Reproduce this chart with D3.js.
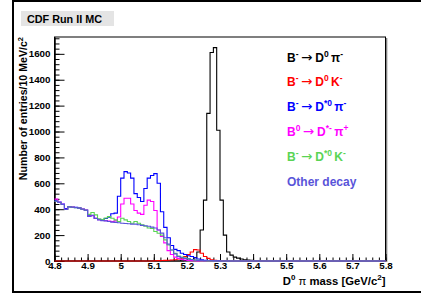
<!DOCTYPE html>
<html lang="en">
<head>
  <meta charset="UTF-8" />
  <title>D0 pi mass - CDF Run II MC</title>
  <script src="https://d3js.org/d3.v7.min.js"></script>
  <style>
    body {
      margin: 0;
      padding: 0;
      background: white;
      font-family: "Liberation Sans", Arial, sans-serif;
    }
    svg {
      display: block;
      background: white;
    }
    .axis text {
      font-family: "Liberation Sans", Arial, sans-serif;
      font-weight: bold;
      font-size: 9.8px;
      fill: black;
    }
    .axis line, .axis path {
      stroke: black;
      stroke-width: 1px;
    }
    .hist {
      fill: none;
      stroke-width: 1.1px;
    }
  </style>
</head>
<body>
  <svg id="chart" width="421" height="299"></svg>

  <script>
    // bins: 100 bins of 10 MeV from 4.80 to 5.80 GeV
    const xMin = 4.8;
    const xMax = 5.8;
    const binWidth = 0.01;

    const xTicks = [4.8, 4.9, 5.0, 5.1, 5.2, 5.3, 5.4, 5.5, 5.6, 5.7, 5.8];
    const yTicks = [0, 200, 400, 600, 800, 1000, 1200, 1400, 1600];

    // B- -> D0 pi-
    const histD0pi = [
      0, 0, 0, 0, 0, 0, 0, 0, 0, 0,
      0, 0, 0, 0, 0, 0, 0, 0, 0, 0,
      0, 0, 0, 0, 0, 0, 0, 0, 0, 0,
      0, 0, 0, 0, 0, 0, 0, 0, 0, 3,
      5, 10, 25, 70, 240, 470, 1140, 1610, 1648, 1010,
      470, 200, 70, 45, 30, 22, 15, 10, 8, 6,
      4, 3, 2, 2, 1, 0, 0, 0, 0, 0,
      0, 0, 0, 0, 0, 0, 0, 0, 0, 0,
      0, 0, 0, 0, 0, 0, 0, 0, 0, 0,
      0, 0, 0, 0, 0, 0, 0, 0, 0, 0
    ];
    // B- -> D0 K-
    const histD0K = [
      0, 0, 0, 0, 0, 0, 0, 0, 0, 0,
      0, 0, 0, 0, 0, 0, 0, 0, 0, 0,
      0, 0, 0, 0, 0, 0, 0, 0, 0, 0,
      2, 3, 4, 5, 6, 8, 10, 15, 22, 35,
      50, 70, 88, 85, 60, 35, 20, 10, 6, 4,
      2, 1, 0, 0, 0, 0, 0, 0, 0, 0,
      0, 0, 0, 0, 0, 0, 0, 0, 0, 0,
      0, 0, 0, 0, 0, 0, 0, 0, 0, 0,
      0, 0, 0, 0, 0, 0, 0, 0, 0, 0,
      0, 0, 0, 0, 0, 0, 0, 0, 0, 0
    ];
    // B- -> D*0 pi-
    const histDst0pi = [
      465, 455, 440, 405, 420, 416, 414, 410, 402, 394,
      350, 352, 330, 320, 318, 328, 338, 365, 370, 500,
      640, 690, 680, 640, 520, 490, 460, 560, 640, 660,
      675, 600, 380, 260, 180, 120, 90, 80, 60, 50,
      40, 35, 25, 15, 10, 6, 4, 3, 2, 1,
      0, 0, 0, 0, 0, 0, 0, 0, 0, 0,
      0, 0, 0, 0, 0, 0, 0, 0, 0, 0,
      0, 0, 0, 0, 0, 0, 0, 0, 0, 0,
      0, 0, 0, 0, 0, 0, 0, 0, 0, 0,
      0, 0, 0, 0, 0, 0, 0, 0, 0, 0
    ];
    // B0 -> D*- pi+
    const histDstpi = [
      478, 454, 437, 399, 419, 416, 413, 409, 401, 393,
      346, 351, 329, 319, 314, 312, 308, 304, 310, 340,
      440, 485, 485, 440, 390, 370, 360, 430, 470, 460,
      390, 240, 190, 140, 80, 50, 30, 20, 12, 8,
      5, 3, 2, 1, 0, 0, 0, 0, 0, 0,
      0, 0, 0, 0, 0, 0, 0, 0, 0, 0,
      0, 0, 0, 0, 0, 0, 0, 0, 0, 0,
      0, 0, 0, 0, 0, 0, 0, 0, 0, 0,
      0, 0, 0, 0, 0, 0, 0, 0, 0, 0,
      0, 0, 0, 0, 0, 0, 0, 0, 0, 0
    ];
    // B- -> D*0 K-
    const histDst0K = [
      462, 452, 436, 398, 418, 415, 412, 408, 400, 392,
      360, 375, 356, 325, 320, 332, 343, 330, 318, 305,
      330, 318, 305, 292, 305, 292, 280, 268, 255, 252,
      228, 214, 200, 163, 124, 85, 59, 39, 30, 25,
      18, 12, 8, 5, 3, 2, 1, 0, 0, 0,
      0, 0, 0, 0, 0, 0, 0, 0, 0, 0,
      0, 0, 0, 0, 0, 0, 0, 0, 0, 0,
      0, 0, 0, 0, 0, 0, 0, 0, 0, 0,
      0, 0, 0, 0, 0, 0, 0, 0, 0, 0,
      0, 0, 0, 0, 0, 0, 0, 0, 0, 0
    ];
    // Other decay
    const histOther = [
      462, 452, 436, 398, 418, 415, 412, 408, 400, 392,
      345, 350, 328, 318, 312, 310, 305, 300, 298, 295,
      292, 290, 288, 285, 285, 280, 275, 272, 268, 262,
      255, 240, 215, 180, 130, 85, 55, 35, 25, 20,
      15, 10, 8, 5, 4, 3, 2, 2, 1, 1,
      0, 0, 0, 0, 0, 0, 0, 0, 0, 0,
      0, 0, 0, 0, 0, 0, 0, 0, 0, 0,
      0, 0, 0, 0, 0, 0, 0, 0, 0, 0,
      0, 0, 0, 0, 0, 0, 0, 0, 0, 0,
      0, 0, 0, 0, 0, 0, 0, 0, 0, 0
    ];

    const seriesValues = [histD0pi, histD0K, histDst0pi, histDstpi, histDst0K, histOther];
    const seriesColors = ["#000000", "#ff0000", "#0000ff", "#ff00ff", "#59d454", "#5954d9"];

    // legend labels: [text, kind]  kind: 0 normal, 1 superscript, 2 arrow
    const legendLabels = [
      [["B", 0], ["-", 1], ["\u2192", 2], ["D", 0], ["0", 1], ["\u03c0", 0], ["-", 1]],
      [["B", 0], ["-", 1], ["\u2192", 2], ["D", 0], ["0", 1], ["K", 0], ["-", 1]],
      [["B", 0], ["-", 1], ["\u2192", 2], ["D", 0], ["*0", 1], ["\u03c0", 0], ["-", 1]],
      [["B", 0], ["0", 1], ["\u2192", 2], ["D", 0], ["*-", 1], ["\u03c0", 0], ["+", 1]],
      [["B", 0], ["-", 1], ["\u2192", 2], ["D", 0], ["*0", 1], ["K", 0], ["-", 1]],
      [["Other decay", 0]]
    ];

    const svg = d3.select("#chart");

    // plot frame
    const fLeft = 54.5, fRight = 385.5, fTop = 37, fBottom = 261;

    const x = d3.scaleLinear().domain([xMin, xMax]).range([fLeft, fRight]);
    const y = d3.scaleLinear().domain([0, 1730]).range([fBottom, fTop]);

    // outer canvas border
    svg.append("path")
      .attr("d", "M421,1 H13 V292 H421")
      .attr("fill", "none")
      .attr("stroke", "black")
      .attr("stroke-width", 2);

    // title box
    svg.append("rect")
      .attr("x", 21).attr("y", 11)
      .attr("width", 93).attr("height", 15)
      .attr("fill", "#e4e4e4");
    svg.append("text")
      .attr("x", 64.5).attr("y", 22.8)
      .attr("text-anchor", "middle")
      .style("font-weight", "bold")
      .style("font-size", "10.8px")
      .text("CDF Run II MC");

    // frame with shadow on the right
    svg.append("line")
      .attr("x1", fRight + 1.2).attr("x2", fRight + 1.2)
      .attr("y1", fTop + 1).attr("y2", fBottom + 1)
      .attr("stroke", "#777").attr("stroke-width", 1.2);
    svg.append("rect")
      .attr("x", fLeft).attr("y", fTop)
      .attr("width", fRight - fLeft).attr("height", fBottom - fTop)
      .attr("fill", "none")
      .attr("stroke", "black");

    // y axis (ticks inside)
    const yMinor = d3.range(0, 1730, 40);
    svg.append("g")
      .attr("class", "axis")
      .attr("transform", `translate(${fLeft},0)`)
      .call(d3.axisLeft(y).tickValues(yMinor).tickSizeInner(-5).tickSizeOuter(0).tickFormat(""));
    svg.append("g")
      .attr("class", "axis")
      .attr("transform", `translate(${fLeft},0)`)
      .call(d3.axisLeft(y).tickValues(yTicks).tickSizeInner(-10).tickSizeOuter(0).tickPadding(4)
        .tickFormat(d3.format("d")));

    // x axis (ticks inside)
    const xMinor = d3.range(0, 51).map(i => xMin + i * 0.02);
    svg.append("g")
      .attr("class", "axis")
      .attr("transform", `translate(0,${fBottom})`)
      .call(d3.axisBottom(x).tickValues(xMinor).tickSizeInner(-3.5).tickSizeOuter(0).tickFormat(""))
      .select(".domain").remove();
    svg.append("g")
      .attr("class", "axis")
      .attr("transform", `translate(0,${fBottom})`)
      .call(d3.axisBottom(x).tickValues(xTicks).tickSizeInner(-7).tickSizeOuter(0).tickPadding(1.5)
        .tickFormat(d => String(+d.toFixed(1))))
      .select(".domain").remove();

    // histograms as step lines
    const step = d3.line()
      .x(d => x(d[0]))
      .y(d => y(d[1]))
      .curve(d3.curveStepAfter);

    seriesValues.forEach((vals, k) => {
      const pts = vals.map((v, i) => [xMin + i * binWidth, v]);
      pts.push([xMax, vals[vals.length - 1]]);
      svg.append("path")
        .datum(pts)
        .attr("class", "hist")
        .attr("stroke", seriesColors[k])
        .attr("d", step);
    });

    // axis titles
    const yTitle = svg.append("text")
      .attr("transform", `translate(27,${fTop}) rotate(-90)`)
      .attr("text-anchor", "end")
      .style("font-weight", "bold")
      .style("font-size", "10.6px");
    yTitle.append("tspan").text("Number of entries/10 MeV/c");
    yTitle.append("tspan").attr("dy", -4).style("font-size", "7.5px").text("2");

    const xTitle = svg.append("text")
      .attr("x", fRight).attr("y", 284.5)
      .attr("text-anchor", "end")
      .style("font-weight", "bold")
      .style("font-size", "11.3px");
    xTitle.append("tspan").text("D");
    xTitle.append("tspan").attr("dy", -4.5).style("font-size", "8px").text("0");
    xTitle.append("tspan").attr("dy", 4.5).style("font-weight", "normal").text(" \u03c0");
    xTitle.append("tspan").text(" mass [GeV/c");
    xTitle.append("tspan").attr("dy", -4.5).style("font-size", "8px").text("2");
    xTitle.append("tspan").attr("dy", 4.5).text("]");

    // legend
    legendLabels.forEach((parts, k) => {
      const t = svg.append("text")
        .attr("x", 287)
        .attr("y", 61.5 + k * 24.9)
        .attr("fill", seriesColors[k])
        .style("font-weight", "bold")
        .style("font-size", "12px");
      let raised = false;
      parts.forEach(([s, kind], j) => {
        const sp = t.append("tspan").text(s);
        if (kind === 1) {
          sp.style("font-size", "8.5px");
          if (!raised) { sp.attr("dy", -5); raised = true; }
        } else {
          if (raised) { sp.attr("dy", 5); raised = false; }
          if (kind === 2) {
            sp.attr("dx", 2.4)
              .style("font-weight", "normal")
              .style("font-family", "'DejaVu Sans', sans-serif")
              .style("font-size", "13.5px");
          } else if (j > 0) {
            sp.attr("dx", s === "D" ? 3 : 2.4);
          }
        }
      });
    });
  </script>
</body>
</html>
